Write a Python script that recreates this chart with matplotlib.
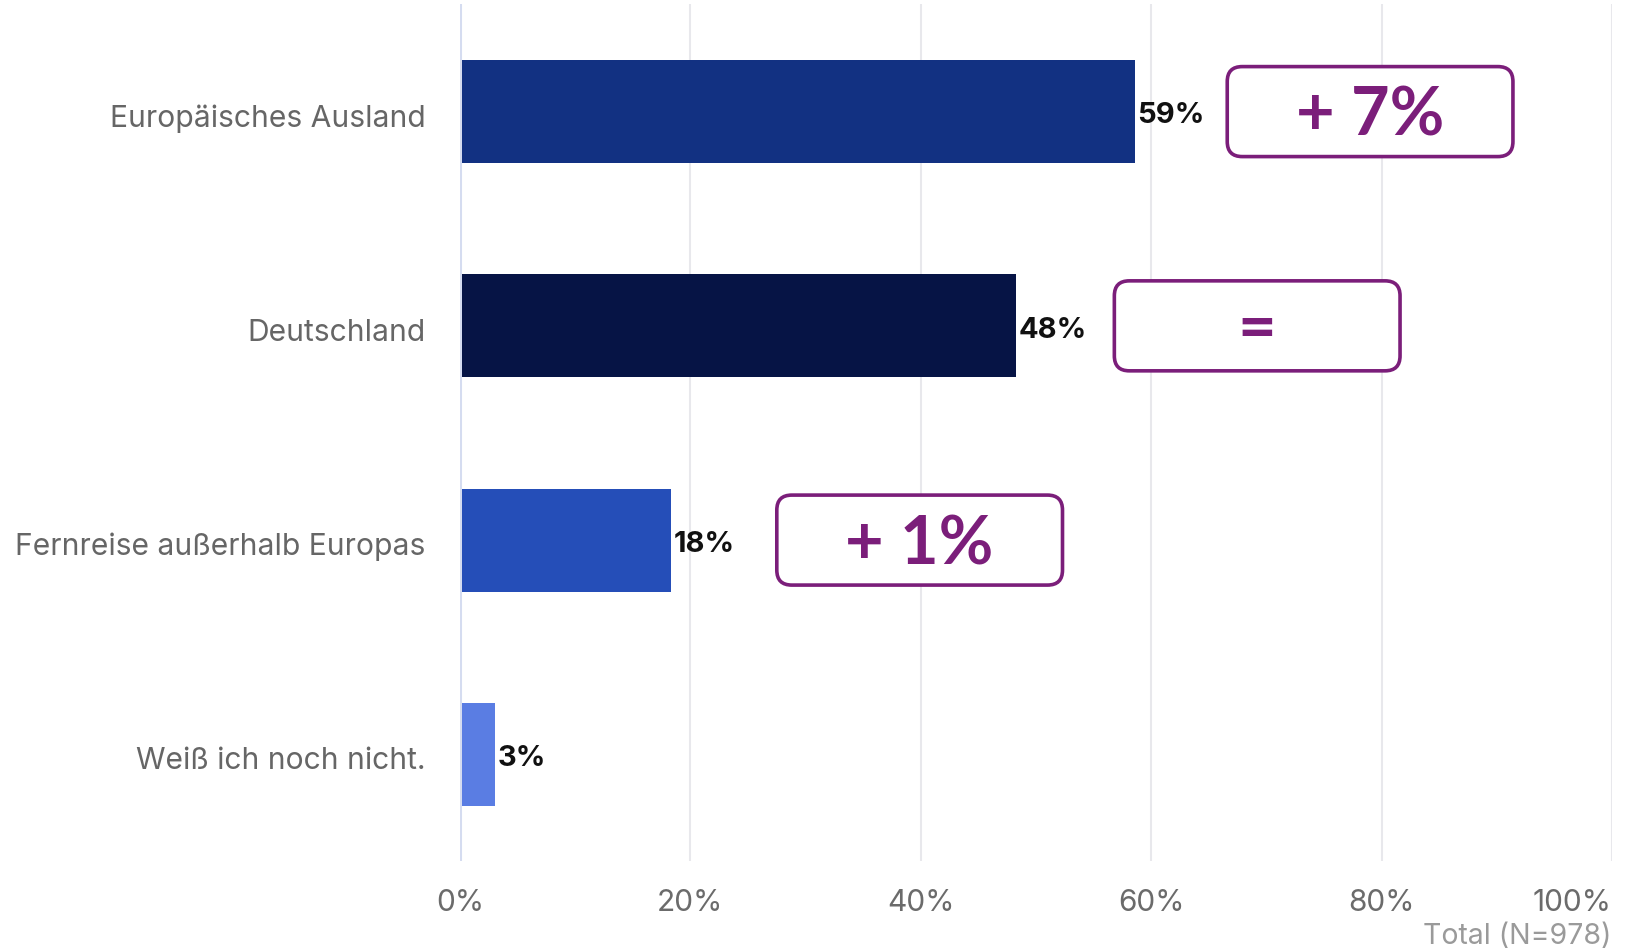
import matplotlib
matplotlib.use("Agg")
import matplotlib.pyplot as plt
from matplotlib.patches import FancyBboxPatch
from matplotlib.transforms import ScaledTranslation

categories = ["Europäisches Ausland", "Deutschland", "Fernreise außerhalb Europas", "Weiß ich noch nicht."]
values = [58.4, 48.1, 18.2, 2.9]
value_labels = ["59%", "48%", "18%", "3%"]
bar_colors = ["#123182", "#061445", "#254EB8", "#5A7DE3"]
changes = ["+ 7%", "=", "+ 1%"]
xticks = [0, 20, 40, 60, 80, 100]
xtick_labels = ["0%", "20%", "40%", "60%", "80%", "100%"]
footnote = "Total (N=978)"

# layout of the change boxes (left edge, in axis percent)
box_left = [66.6, 56.8, 27.5]

plt.rcParams['font.family'] = ['Inter', 'DejaVu Sans']

fig = plt.figure(figsize=(16.26, 9.5), dpi=100)
ax = fig.add_axes([0.2829, 0.0932, 0.9914 - 0.2829, 0.9953 - 0.0932])

y = list(range(len(categories)))
ax.barh(y, values, height=0.48, color=bar_colors, zorder=3, left=0.15)
ax.set_xlim(0, 100)
ax.set_ylim(3.5, -0.5)

for s in ax.spines.values():
    s.set_visible(False)
ax.set_xticks(xticks)
ax.set_xticklabels(xtick_labels)
ax.set_yticks(y)
ax.set_yticklabels(categories)
ax.tick_params(axis='x', length=0, pad=20, labelsize=21.5, labelcolor="#6b6b6b")
ax.tick_params(axis='y', length=0, pad=25, labelsize=21.6, labelcolor="#666666")
xl = ax.get_xticklabels()
xl[-1].set_horizontalalignment('right')
shift = ScaledTranslation(0, -0.04, fig.dpi_scale_trans)
for lab in ax.get_yticklabels():
    lab.set_transform(lab.get_transform() + shift)
for xt in xticks[1:]:
    ax.axvline(xt, color="#e8e8ec", lw=1.5, zorder=1)
ax.axvline(0, color="#d5dcf0", lw=2.2, zorder=2)

for yi, v, lab in zip(y, values, value_labels):
    ax.text(v + 0.35, yi + 0.02, lab, va='center', ha='left', fontsize=21,
            fontweight='bold', color="#111111", zorder=4)

box_w = 24.8
box_h = 0.42
aspect = (4.0 / 857.0) / (100.0 / 1152.0)
for yi, x0, ch in zip(y, box_left, changes):
    patch = FancyBboxPatch((x0, yi - box_h / 2), box_w, box_h,
                           boxstyle="round,pad=0,rounding_size=1.3",
                           mutation_aspect=aspect,
                           fc="white", ec="#7B1E7A", lw=2.6, zorder=4)
    ax.add_patch(patch)
    ax.text(x0 + box_w / 2, yi + 0.025, ch, ha='center', va='center',
            fontsize=48, fontweight='bold', color="#7B1E7A", zorder=5,
            family=['Lato', 'DejaVu Sans'])

fig.text(1611 / 1626, 1 - 937 / 950, footnote, ha='right', va='center',
         fontsize=20.5, color="#9a9a9a")

fig.savefig("out.png", dpi=100, facecolor="white")
